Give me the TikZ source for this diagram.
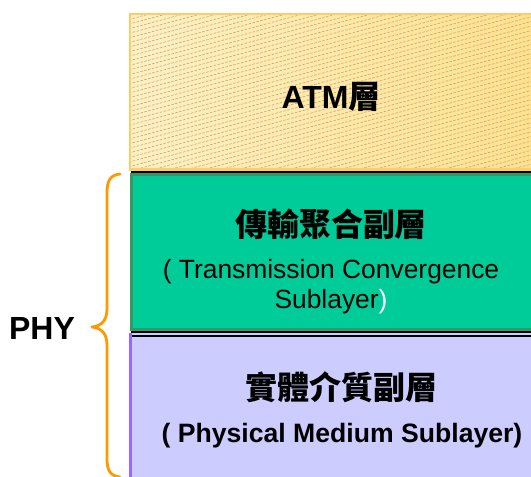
\documentclass[tikz,border=0pt]{standalone}
\usepackage{fontspec}
\setmainfont{Liberation Sans}
\newfontfamily\cjk{Noto Sans CJK TC}
\definecolor{atmborder}{RGB}{255,204,102}
\definecolor{atmleft}{RGB}{255,240,195}
\definecolor{atmright}{RGB}{255,224,140}
\definecolor{hatchc}{RGB}{190,166,120}
\definecolor{tcfill}{RGB}{0,204,153}
\definecolor{tcborder}{RGB}{51,153,102}
\definecolor{pmfill}{RGB}{204,204,255}
\definecolor{pmborder}{RGB}{153,102,255}
\definecolor{bracec}{RGB}{255,153,0}
\tikzset{
  title/.style={font=\fontsize{32}{38}\selectfont\bfseries, anchor=base, inner sep=0pt},
  sub/.style={font=\fontsize{26.4}{30}\selectfont, anchor=base, inner sep=0pt},
  subb/.style={font=\fontsize{26.6}{30}\selectfont\bfseries, anchor=base, inner sep=0pt},
  hatch/.style={draw=hatchc, line width=0.6pt, dash pattern=on 2.5pt off 1.5pt},
  sepline/.style={draw=black, line width=1.3pt},
  bracestyle/.style={draw=bracec, line width=2.8pt, line cap=round, line join=round}
}
\begin{document}
\begin{tikzpicture}[x=1pt,y=-1pt]
\useasboundingbox (0,0) rectangle (531,477);
% ATM layer
\shade[left color=atmleft, right color=atmright] (130,14) rectangle (540,170);
\begin{scope}
  \clip (131,15.5) rectangle (540,168.5);
  \foreach \i in {0,...,66} \draw[hatch] (125,{16+4.6*\i}) -- ++(430,-116);
\end{scope}
\draw[draw=atmborder, line width=2.5pt] (130,14) rectangle (545,169.5);
% TC layer
\draw[sepline] (131,172) -- (540,172);
\draw[fill=tcfill, draw=tcborder, line width=2.5pt] (131.5,174.5) rectangle (545,329.5);
\draw[sepline] (131,332) -- (540,332);
% PM layer
\fill[pmfill] (130,333) rectangle (540,480);
\draw[sepline] (132,336) -- (540,336);
\draw[draw=pmborder, line width=3pt] (130.8,333) -- (130.8,480);
% texts
\node[title] (atm) at (331,108) {ATM{\cjk 層}};
\node[title] (tc) at (331,236) {\cjk 傳輸聚合副層};
\node[sub] (tc1) at (331,278) {( Transmission Convergence};
\node[sub] (tc2) at (331,308) {Sublayer\textcolor{white}{)}};
\node[title] (pm) at (341,399) {\cjk 實體介質副層};
\node[subb] (pm1) at (342,442) {( Physical Medium Sublayer)};
\node[title] (phy) at (42,339) {PHY};
% brace
\draw[bracestyle] (120,174) .. controls (110,175) and (107,181) .. (107,193)
  -- (107,309) .. controls (107,321) and (101,326) .. (92,327)
  .. controls (101,328) and (107,333) .. (107,345)
  -- (107,459) .. controls (107,470) and (110,476) .. (120,477);
\end{tikzpicture}
\end{document}
